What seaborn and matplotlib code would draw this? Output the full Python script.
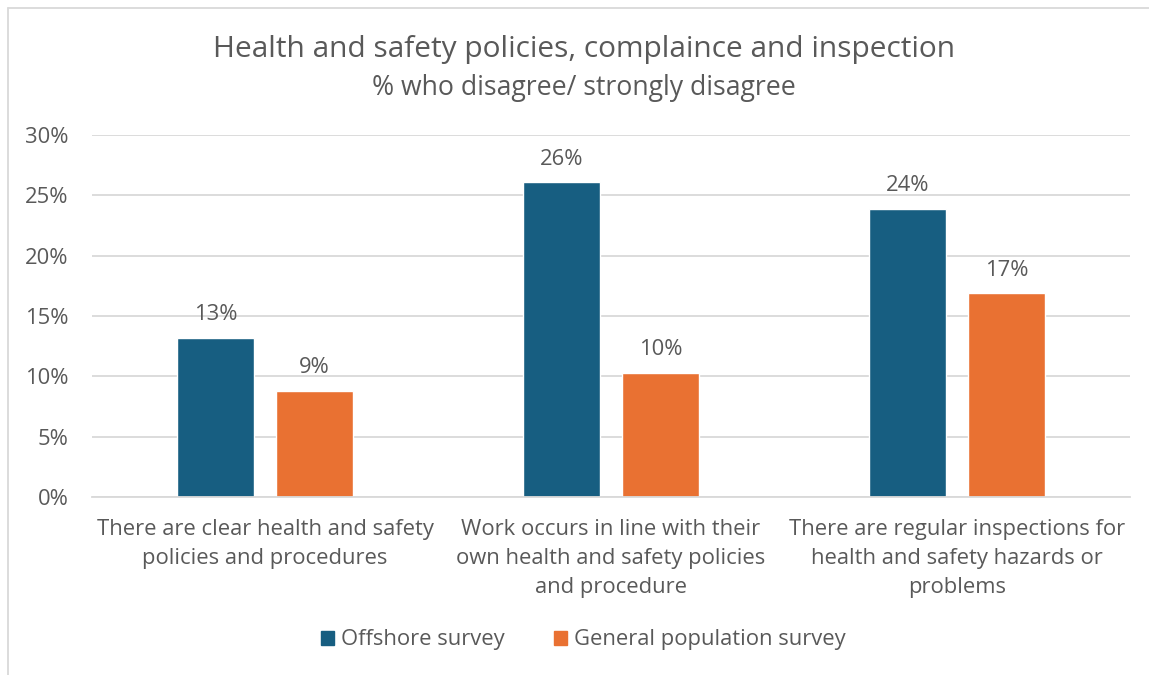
import matplotlib
matplotlib.use("Agg")
import matplotlib.pyplot as plt
import matplotlib.patches as mpatches
from matplotlib.lines import Line2D
import seaborn as sns
import pandas as pd

# Survey results: % who disagree / strongly disagree
categories = [
    "There are clear health and safety\npolicies and procedures",
    "Work occurs in line with their\nown health and safety policies\nand procedure",
    "There are regular inspections for\nhealth and safety hazards or\nproblems",
]
series_names = ["Offshore survey", "General population survey"]
offshore = [13.2, 26.1, 23.9]
general_population = [8.8, 10.3, 16.9]
y_ticks = [0, 5, 10, 15, 20, 25, 30]
y_tick_labels = ["0%", "5%", "10%", "15%", "20%", "25%", "30%"]

colors = ["#175E81", "#E97132"]
text_color = "#595959"
grid_color = "#D9D9D9"

df = pd.DataFrame({
    "category": categories * 2,
    "survey": [series_names[0]] * 3 + [series_names[1]] * 3,
    "value": offshore + general_population,
})

sns.set_theme(style="white")
plt.rcParams["font.family"] = ["Open Sans", "DejaVu Sans"]

W, H = 1149, 675
fig = plt.figure(figsize=(W / 100, H / 100), dpi=100)
ax = fig.add_axes([92 / W, 1 - 497 / H, (1130 - 92) / W, (497 - 135) / H])

sns.barplot(
    data=df, x="category", y="value", hue="survey",
    palette=colors, width=0.572, gap=0.222, ax=ax,
    order=categories, hue_order=series_names, saturation=1,
)

for container in ax.containers:
    ax.bar_label(container, fmt="{:.0f}%", padding=9,
                 fontsize=15.8, color=text_color)

ax.set_ylim(0, 30)
ax.set_yticks(y_ticks)
ax.set_yticklabels(y_tick_labels)
ax.yaxis.grid(True, color=grid_color, linewidth=1.3)
ax.set_axisbelow(True)
for side in ["left", "right", "top"]:
    ax.spines[side].set_visible(False)
ax.spines["bottom"].set_color(grid_color)
ax.spines["bottom"].set_linewidth(1.3)
ax.tick_params(axis="both", length=0, labelsize=15.8, colors=text_color)
ax.tick_params(axis="y", pad=17)
ax.tick_params(axis="x", pad=15.5)
for lbl in ax.get_xticklabels():
    lbl.set_linespacing(1.52)
ax.set_xlabel("")
ax.set_ylabel("")

ax.legend_.remove()
handles = [mpatches.Patch(color=c, label=n) for c, n in zip(colors, series_names)]
fig.legend(handles=handles, loc="center", bbox_to_anchor=(0.508, 0.052),
           ncol=2, frameon=False, fontsize=15.8, labelcolor=text_color,
           handlelength=0.59, handleheight=0.59, handletextpad=0.32,
           columnspacing=2.25)

fig.text(0.508, 0.927, "Health and safety policies, complaince and inspection",
         ha="center", va="center", fontsize=21.5, color=text_color)
fig.text(0.508, 0.870, "% who disagree/ strongly disagree",
         ha="center", va="center", fontsize=19.2, color=text_color)

# Chart-area frame (left and top edges)
fig.add_artist(Line2D([7.5 / W, 7.5 / W], [0, 1 - 7.5 / H],
                      transform=fig.transFigure, color=grid_color, linewidth=1.3))
fig.add_artist(Line2D([7.5 / W, 1], [1 - 7.5 / H, 1 - 7.5 / H],
                      transform=fig.transFigure, color=grid_color, linewidth=1.3))

fig.savefig("out.png", dpi=100, facecolor="white")
